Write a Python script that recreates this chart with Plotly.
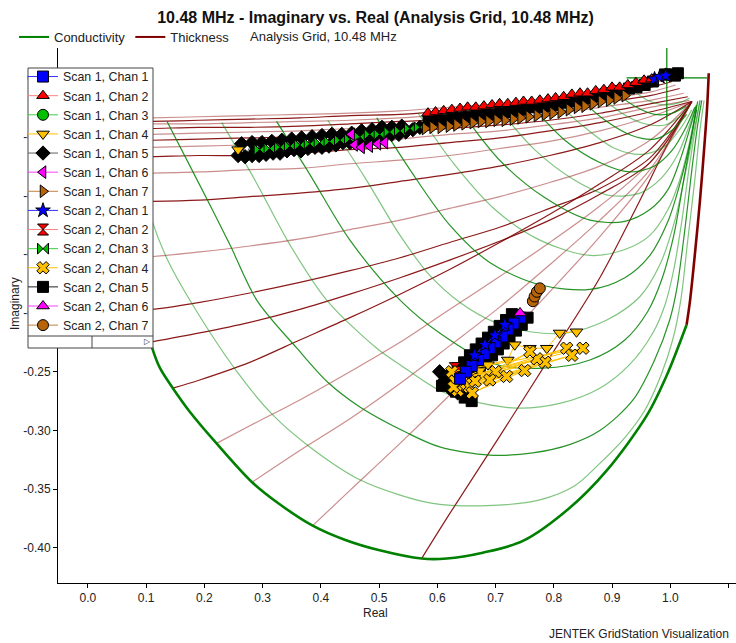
import plotly.graph_objects as go

FONT = "Liberation Sans, Arial, sans-serif"

# ---------------- analysis grid (data units) ----------------
cond_edge_x = [0.039, 0.043, 0.052, 0.064, 0.081, 0.098, 0.110, 0.124, 0.146, 0.175, 0.221, 0.282, 0.330, 0.386,
               0.441, 0.501, 0.573, 0.616, 0.678, 0.747, 0.827, 0.891, 0.960, 0.994, 1.028]
cond_edge_y = [-0.037, -0.053, -0.087, -0.129, -0.172, -0.206, -0.229, -0.247, -0.264, -0.284, -0.311, -0.344,
               -0.363, -0.381, -0.393, -0.402, -0.409, -0.409, -0.404, -0.394, -0.366, -0.334, -0.287, -0.253, -0.210]
thick_edge_x = [1.028, 1.034, 1.043, 1.051, 1.058, 1.063, 1.066]
thick_edge_y = [-0.210, -0.189, -0.146, -0.104, -0.061, -0.027, 0.004]

cond_lines_x = [
    [0.064, 0.089, 0.110, 0.137, 0.175, 0.256, 0.318, 0.381, 0.467, 0.536, 0.592, 0.685, 0.776, 0.836, 0.879, 0.922,
     0.956, 0.984, 1.004, 1.018, 1.030, 1.042, 1.051, 1.058],
    [0.136, 0.192, 0.244, 0.290, 0.359, 0.412, 0.467, 0.548, 0.604, 0.690, 0.764, 0.827, 0.879, 0.936, 0.973, 0.999,
     1.011, 1.025, 1.037, 1.047, 1.054],
    [0.230, 0.287, 0.347, 0.410, 0.496, 0.536, 0.604, 0.651, 0.736, 0.810, 0.879, 0.930, 0.970, 0.991, 1.006, 1.020,
     1.033, 1.044, 1.051],
    [0.324, 0.381, 0.450, 0.536, 0.604, 0.695, 0.781, 0.862, 0.922, 0.961, 0.985, 1.006, 1.023, 1.037, 1.047],
    [0.412, 0.476, 0.536, 0.587, 0.639, 0.699, 0.759, 0.822, 0.891, 0.948, 0.982, 1.008, 1.027, 1.041, 1.051],
    [0.496, 0.553, 0.621, 0.690, 0.776, 0.862, 0.922, 0.965, 0.996, 1.016, 1.033, 1.045],
    [0.567, 0.630, 0.699, 0.776, 0.862, 0.922, 0.965, 0.996, 1.016, 1.032, 1.044],
    [0.639, 0.707, 0.785, 0.862, 0.922, 0.965, 0.996, 1.016, 1.033, 1.045],
    [0.702, 0.767, 0.836, 0.896, 0.948, 0.985, 1.013, 1.033, 1.045],
    [0.755, 0.819, 0.879, 0.930, 0.973, 1.004, 1.027, 1.042],
    [0.798, 0.853, 0.905, 0.953, 0.991, 1.016, 1.037],
    [0.839, 0.888, 0.934, 0.973, 1.004, 1.028],
    [0.874, 0.917, 0.956, 0.991, 1.016, 1.033],
    [0.901, 0.939, 0.973, 1.003, 1.027],
    [0.930, 0.961, 0.991, 1.016, 1.033],
]
cond_lines_y = [
    [-0.039, -0.078, -0.121, -0.155, -0.189, -0.250, -0.287, -0.314, -0.342, -0.355, -0.362, -0.364, -0.359, -0.347,
     -0.328, -0.306, -0.283, -0.253, -0.223, -0.189, -0.138, -0.087, -0.044, -0.019],
    [-0.037, -0.091, -0.142, -0.189, -0.230, -0.259, -0.280, -0.302, -0.314, -0.321, -0.319, -0.312, -0.300, -0.274,
     -0.240, -0.206, -0.180, -0.129, -0.078, -0.040, -0.019],
    [-0.038, -0.087, -0.142, -0.189, -0.230, -0.244, -0.266, -0.274, -0.281, -0.277, -0.264, -0.244, -0.217, -0.193,
     -0.163, -0.121, -0.074, -0.040, -0.019],
    [-0.037, -0.082, -0.138, -0.189, -0.217, -0.243, -0.247, -0.240, -0.223, -0.199, -0.172, -0.134, -0.087, -0.048,
     -0.020],
    [-0.036, -0.085, -0.134, -0.168, -0.191, -0.208, -0.216, -0.217, -0.206, -0.186, -0.159, -0.121, -0.078, -0.044,
     -0.019],
    [-0.034, -0.078, -0.125, -0.157, -0.176, -0.180, -0.170, -0.151, -0.122, -0.091, -0.057, -0.027],
    [-0.030, -0.074, -0.112, -0.138, -0.151, -0.146, -0.134, -0.112, -0.087, -0.057, -0.027],
    [-0.027, -0.070, -0.102, -0.121, -0.122, -0.112, -0.095, -0.071, -0.044, -0.023],
    [-0.024, -0.061, -0.087, -0.100, -0.098, -0.085, -0.065, -0.040, -0.023],
    [-0.020, -0.053, -0.072, -0.080, -0.075, -0.061, -0.042, -0.025],
    [-0.018, -0.042, -0.060, -0.065, -0.058, -0.044, -0.027],
    [-0.015, -0.036, -0.049, -0.052, -0.044, -0.031],
    [-0.013, -0.030, -0.039, -0.040, -0.033, -0.024],
    [-0.011, -0.024, -0.031, -0.030, -0.024],
    [-0.008, -0.019, -0.023, -0.021, -0.017],
]

thick_lines_x = [
    [0.573, 0.621, 0.707, 0.793, 0.879, 0.948, 0.999, 1.037],
    [0.386, 0.450, 0.536, 0.621, 0.707, 0.793, 0.879, 0.965, 1.037],
    [0.282, 0.364, 0.450, 0.536, 0.621, 0.707, 0.793, 0.879, 0.965, 1.037],
    [0.221, 0.278, 0.364, 0.450, 0.536, 0.621, 0.707, 0.793, 0.879, 0.965, 1.037],
    [0.146, 0.192, 0.278, 0.364, 0.450, 0.536, 0.621, 0.707, 0.793, 0.879, 0.965, 1.037],
    [0.106, 0.192, 0.278, 0.364, 0.450, 0.536, 0.621, 0.707, 0.793, 0.879, 0.965, 1.037],
]
thick_lines_y = [
    [-0.409, -0.371, -0.305, -0.238, -0.170, -0.104, -0.053, -0.020],
    [-0.381, -0.351, -0.311, -0.270, -0.227, -0.182, -0.135, -0.082, -0.020],
    [-0.344, -0.317, -0.290, -0.260, -0.228, -0.195, -0.159, -0.121, -0.078, -0.020],
    [-0.311, -0.296, -0.274, -0.250, -0.225, -0.197, -0.169, -0.140, -0.109, -0.072, -0.020],
    [-0.264, -0.257, -0.242, -0.223, -0.204, -0.184, -0.163, -0.140, -0.116, -0.090, -0.061, -0.020],
    [-0.225, -0.217, -0.208, -0.197, -0.184, -0.170, -0.155, -0.139, -0.121, -0.099, -0.072, -0.020],
]
upper_thick_x = [0.090, 0.110, 0.192, 0.278, 0.364, 0.450, 0.536, 0.621, 0.707, 0.793, 0.879, 0.965]
upper_thick_y = [
    [-0.197, -0.197, -0.191, -0.183, -0.174, -0.164, -0.153, -0.140, -0.127, -0.111, -0.094, -0.068],
    [-0.152, -0.152, -0.148, -0.143, -0.137, -0.129, -0.121, -0.111, -0.101, -0.089, -0.075, -0.053],
    [-0.105, -0.105, -0.104, -0.101, -0.098, -0.094, -0.088, -0.082, -0.075, -0.066, -0.055, -0.040],
    [-0.081, -0.081, -0.080, -0.078, -0.077, -0.073, -0.070, -0.066, -0.060, -0.054, -0.045, -0.033],
    [-0.067, -0.067, -0.066, -0.066, -0.064, -0.061, -0.059, -0.055, -0.051, -0.045, -0.038, -0.029],
    [-0.059, -0.059, -0.058, -0.057, -0.056, -0.055, -0.052, -0.048, -0.045, -0.040, -0.034, -0.025],
    [-0.053, -0.053, -0.052, -0.051, -0.050, -0.048, -0.046, -0.043, -0.040, -0.036, -0.030, -0.022],
    [-0.048, -0.048, -0.047, -0.046, -0.045, -0.043, -0.042, -0.039, -0.036, -0.031, -0.025, -0.019],
    [-0.043, -0.043, -0.042, -0.042, -0.041, -0.039, -0.037, -0.035, -0.031, -0.027, -0.021, -0.015],
    [-0.039, -0.039, -0.039, -0.038, -0.037, -0.036, -0.034, -0.031, -0.028, -0.024, -0.018, -0.012],
    [-0.037, -0.037, -0.036, -0.035, -0.034, -0.032, -0.031, -0.028, -0.025, -0.020, -0.014, -0.008],
    [-0.034, -0.034, -0.033, -0.032, -0.031, -0.030, -0.028, -0.025, -0.022, -0.017, -0.011, -0.005],
]
upper_thick_end_x = [1.037, 1.037, 1.037, 1.037, 1.037, 1.033, 1.030, 1.023, 1.016, 1.009, 1.003, 0.996]
upper_thick_end_y = [-0.020, -0.020, -0.020, -0.020, -0.020, -0.019, -0.016, -0.013, -0.009, -0.006, -0.003, -0.001]

cross_h_x = [0.925, 1.063]
cross_h_y = [0.0, 0.0]
cross_v_x = [0.994, 0.994]
cross_v_y = [0.03, -0.036]

# ---------------- measurement series ----------------
series_names = ["Scan 1, Chan 1", "Scan 1, Chan 2", "Scan 1, Chan 3", "Scan 1, Chan 4", "Scan 1, Chan 5",
                "Scan 1, Chan 6", "Scan 1, Chan 7", "Scan 2, Chan 1", "Scan 2, Chan 2", "Scan 2, Chan 3",
                "Scan 2, Chan 4", "Scan 2, Chan 5", "Scan 2, Chan 6", "Scan 2, Chan 7"]
series_symbols = ["square", "triangle-up", "circle", "triangle-down", "diamond", "triangle-left", "triangle-right",
                  "star", "hourglass", "bowtie", "x", "square", "triangle-up", "circle"]
series_fill = ["#0000FF", "#FF0000", "#00C000", "#FFC000", "#000000", "#FF00FF", "#B8650A",
               "#0000FF", "#FF0000", "#00C000", "#FFC000", "#000000", "#FF00FF", "#B8650A"]
series_line = ["#3030FF", "#FF8080", "#40D040", "#FFC000", "#606060", "#FF40FF", "#C08040",
               "#3030FF", "#FF8080", "#40D040", "#FFC000", "#202020", "#FF40FF", "#C08040"]

s1c1_x = [0.742, 0.731, 0.721, 0.711, 0.700, 0.690, 0.680, 0.670, 0.659, 0.649, 0.639]
s1c1_y = [-0.204, -0.209, -0.214, -0.220, -0.225, -0.230, -0.235, -0.240, -0.245, -0.250, -0.256]
s1c2_x = [0.584, 0.597, 0.611, 0.625, 0.639, 0.652, 0.666, 0.680, 0.694, 0.707, 0.721, 0.735, 0.748, 0.762, 0.776,
          0.790, 0.803, 0.817, 0.831, 0.845, 0.858, 0.872, 0.886, 0.900, 0.913, 0.927, 0.941, 0.955, 0.968]
s1c2_y = [-0.030, -0.029, -0.028, -0.027, -0.026, -0.025, -0.025, -0.024, -0.023, -0.022, -0.022, -0.021, -0.020,
          -0.020, -0.019, -0.018, -0.017, -0.016, -0.014, -0.013, -0.013, -0.011, -0.010, -0.008, -0.008, -0.006,
          -0.004, -0.002, -0.001]
s1c3_x = [0.287, 0.321]
s1c3_y = [-0.063, -0.061]
s1c4_x = [0.258, None, 0.630, 0.647, 0.673, 0.687, 0.721, 0.733, 0.759, 0.788, 0.810, 0.839]
s1c4_y = [-0.061, None, -0.261, -0.255, -0.249, -0.244, -0.240, -0.227, -0.230, -0.230, -0.217, -0.216]
s1c5_x = [0.258, 0.264, 0.270, 0.282, 0.282, 0.294, 0.299, 0.306, 0.316, 0.318, 0.330, 0.333, 0.342, 0.350, 0.354,
          0.366, 0.367, 0.378, 0.385, 0.390, 0.402, 0.402, 0.414, 0.419, 0.426, 0.436, 0.438, 0.450, 0.453, 0.462,
          0.470, 0.474, 0.486, 0.488, 0.498, 0.505, 0.510, 0.522, 0.522, 0.534, 0.539, 0.546, 0.558, 0.570,
          None, 0.604, 0.613, 0.621, 0.635]
s1c5_y = [-0.066, -0.056, -0.067, -0.055, -0.066, -0.066, -0.055, -0.065, -0.054, -0.064, -0.064, -0.053, -0.062,
          -0.052, -0.061, -0.062, -0.051, -0.060, -0.050, -0.059, -0.059, -0.049, -0.058, -0.048, -0.057, -0.048,
          -0.055, -0.055, -0.047, -0.054, -0.045, -0.053, -0.052, -0.044, -0.050, -0.042, -0.049, -0.048, -0.042,
          -0.048, -0.041, -0.046, -0.044, -0.042, None, -0.250, -0.257, -0.264, -0.268]
s1c6_x = [0.453, 0.458, 0.470, 0.484, 0.498, 0.510]
s1c6_y = [-0.048, -0.057, -0.059, -0.058, -0.056, -0.055]
s1c7_x = [0.579, 0.592, 0.606, 0.620, 0.633, 0.647, 0.661, 0.675, 0.688, 0.702, 0.716, 0.730, 0.743, 0.757, 0.771,
          0.785, 0.798, 0.812, 0.826, 0.840, 0.853, 0.867, 0.881, 0.895, 0.908, 0.922]
s1c7_y = [-0.043, -0.042, -0.042, -0.041, -0.040, -0.039, -0.038, -0.037, -0.037, -0.036, -0.036, -0.035, -0.034,
          -0.033, -0.032, -0.031, -0.030, -0.029, -0.027, -0.025, -0.024, -0.022, -0.020, -0.019, -0.017, -0.015]
s2c1_x = [0.973, 0.982, 0.992, None, 0.716, 0.699, 0.682, 0.664]
s2c1_y = [-0.001, 0.001, 0.002, None, -0.210, -0.219, -0.227, -0.236]
s2c2_x = [0.630, 0.635]
s2c2_y = [-0.247, -0.250]
s2c3_x = [0.295, 0.312, 0.330, 0.347, 0.364, 0.381, 0.398, 0.415, 0.433, 0.450, 0.467, 0.484, 0.501, 0.518, 0.536,
          0.553, 0.570]
s2c3_y = [-0.061, -0.060, -0.059, -0.058, -0.057, -0.056, -0.055, -0.054, -0.053, -0.052, -0.050, -0.048, -0.048,
          -0.046, -0.045, -0.043, -0.042]
s2c4_x = [0.625, 0.850, 0.630, 0.822, 0.640, 0.831, 0.635, 0.785, 0.645, 0.771, 0.650, 0.759, 0.655, 0.750, 0.660,
          0.719, 0.665, 0.700, 0.628, 0.690]
s2c4_y = [-0.250, -0.230, -0.258, -0.230, -0.262, -0.236, -0.266, -0.242, -0.255, -0.239, -0.260, -0.233, -0.263,
          -0.249, -0.268, -0.254, -0.258, -0.250, -0.263, -0.257]
s2c5_x = [0.991, 0.999, 1.008, 1.013, None,
          0.585, 0.599, 0.613, 0.627, 0.640, 0.654, 0.668, 0.682, 0.695, 0.709, 0.723, 0.736, 0.750, 0.764, 0.778,
          0.791, 0.805, 0.819, 0.833, 0.846, 0.860, 0.874, 0.888, 0.901, 0.915, 0.929, 0.942, 0.956, 0.970, None,
          0.755, 0.745, 0.735, 0.724, 0.714, 0.704, 0.694, 0.683, 0.673, 0.663, 0.652, 0.642, 0.632, 0.647, 0.659,
          None,
          0.728, 0.718, 0.707, 0.697, 0.687, 0.676, 0.666, 0.656, 0.646, 0.635, 0.625, 0.615, 0.608]
s2c5_y = [0.003, 0.003, 0.002, 0.004, None,
          -0.037, -0.036, -0.036, -0.035, -0.034, -0.033, -0.032, -0.031, -0.031, -0.030, -0.029, -0.028, -0.027,
          -0.025, -0.025, -0.024, -0.023, -0.021, -0.020, -0.019, -0.017, -0.016, -0.014, -0.013, -0.011, -0.009,
          -0.008, -0.006, -0.003, None,
          -0.204, -0.210, -0.215, -0.220, -0.226, -0.231, -0.236, -0.241, -0.246, -0.251, -0.256, -0.261, -0.267,
          -0.272, -0.275, None,
          -0.201, -0.206, -0.211, -0.216, -0.221, -0.226, -0.231, -0.236, -0.242, -0.247, -0.252, -0.257, -0.262]
s2c6_x = [0.742]
s2c6_y = [-0.200]
s2c7_x = [0.764, 0.767, 0.771, 0.776]
s2c7_y = [-0.190, -0.186, -0.182, -0.179]

series_x = [s1c1_x, s1c2_x, s1c3_x, s1c4_x, s1c5_x, s1c6_x, s1c7_x, s2c1_x, s2c2_x, s2c3_x, s2c4_x, s2c5_x, s2c6_x, s2c7_x]
series_y = [s1c1_y, s1c2_y, s1c3_y, s1c4_y, s1c5_y, s1c6_y, s1c7_y, s2c1_y, s2c2_y, s2c3_y, s2c4_y, s2c5_y, s2c6_y, s2c7_y]
# stacking order of the series (legend keeps the list order above)
draw_order = [2, 11, 4, 9, 5, 6, 1, 8, 3, 10, 0, 7, 12, 13]

x_ticks = [0.0, 0.1, 0.2, 0.3, 0.4, 0.5, 0.6, 0.7, 0.8, 0.9, 1.0, 1.1]
x_tick_text = ["0.0", "0.1", "0.2", "0.3", "0.4", "0.5", "0.6", "0.7", "0.8", "0.9", "1.0", "1.1"]
y_ticks = [0.0, -0.05, -0.10, -0.15, -0.20, -0.25, -0.30, -0.35, -0.40]
y_tick_text = ["0.00", "-0.05", "-0.10", "-0.15", "-0.20", "-0.25", "-0.30", "-0.35", "-0.40"]

GREEN = "#008000"
RED = "#800000"
RED_DARK = "rgba(128,0,0,0.9)"
RED_LIGHT = "rgba(160,50,50,0.55)"
GREEN_DARK = "rgba(0,128,0,0.85)"
GREEN_LIGHT = "rgba(0,140,0,0.5)"

fig = go.Figure()


def grid_line(xs, ys, color, width):
    fig.add_trace(go.Scatter(x=xs, y=ys, mode="lines", showlegend=False, hoverinfo="skip",
                             line=dict(color=color, width=width, shape="spline", smoothing=0.9)))


for k, (xs, ys) in enumerate(zip(thick_lines_x, thick_lines_y)):
    grid_line(xs, ys, RED_DARK if k in (0, 4, 5) else RED_LIGHT, 1.2)
for k, ys in enumerate(upper_thick_y):
    xs = upper_thick_x + [upper_thick_end_x[k]]
    grid_line(xs, ys + [upper_thick_end_y[k]], RED_DARK if k % 2 == 0 else RED_LIGHT, 1.2)
for k, (xs, ys) in enumerate(zip(cond_lines_x, cond_lines_y)):
    grid_line(xs, ys, GREEN_LIGHT if k % 2 == 0 else GREEN_DARK, 1.2)
grid_line(cond_edge_x, cond_edge_y, GREEN, 2.6)
grid_line(thick_edge_x, thick_edge_y, RED, 2.6)
grid_line(cross_h_x, cross_h_y, GREEN, 1.2)
grid_line(cross_v_x, cross_v_y, GREEN, 1.2)

fig.add_trace(go.Scatter(x=[None], y=[None], mode="lines", name="Conductivity", legend="legend2",
                         line=dict(color=GREEN, width=2)))
fig.add_trace(go.Scatter(x=[None], y=[None], mode="lines", name="Thickness", legend="legend2",
                         line=dict(color=RED, width=2)))

for k in draw_order:
    fig.add_trace(go.Scatter(x=series_x[k], y=series_y[k], mode="lines+markers", name=series_names[k],
                             legendrank=1000 + k, connectgaps=False,
                             line=dict(color=series_line[k], width=1),
                             marker=dict(symbol=series_symbols[k], size=11, color=series_fill[k],
                                         line=dict(color="black", width=1))))

W, H = 736, 643
L, R, T, B = 58, 0, 48, 60
PW, PH = W - L - R, H - T - B


def px(x):
    return (x - L) / PW


def py(y):
    return (H - B - y) / PH


fig.update_layout(
    width=W, height=H,
    margin=dict(l=L, r=R, t=T, b=B, autoexpand=False),
    paper_bgcolor="white", plot_bgcolor="white",
    font=dict(family=FONT, size=12, color="#222222"),
    title=dict(text="<b>10.48 MHz - Imaginary vs. Real (Analysis Grid, 10.48 MHz)</b>",
               x=375.5 / W, xanchor="center", xref="container", y=1 - 17 / H, yanchor="middle", yref="container",
               font=dict(size=16, color="#111111", family=FONT)),
    xaxis=dict(range=[-0.0512, 1.1128], tickvals=x_ticks, ticktext=x_tick_text, showgrid=False, zeroline=False,
               showline=True, linecolor="black", linewidth=1, ticks="outside", ticklen=4, tickcolor="black",
               tickfont=dict(size=12, color="#222222")),
    yaxis=dict(range=[-0.4298, 0.0255], tickvals=y_ticks, ticktext=y_tick_text, showgrid=False, zeroline=False,
               showline=True, linecolor="black", linewidth=1, ticks="outside", ticklen=4, tickcolor="black",
               tickfont=dict(size=12, color="#222222")),
    legend=dict(x=px(23), y=py(62), xanchor="left", yanchor="top", bgcolor="rgba(0,0,0,0)",
                borderwidth=0, font=dict(size=12.4, color="#222222", family=FONT), tracegroupgap=0),
    legend2=dict(orientation="h", x=px(14), y=py(22), xanchor="left", yanchor="top", bgcolor="rgba(0,0,0,0)",
                 font=dict(size=13, color="#222222", family=FONT)),
    showlegend=True,
)

fig.add_shape(type="rect", xref="paper", yref="paper", x0=px(28), x1=px(153), y0=py(348), y1=py(68),
              line=dict(color="#444444", width=1), fillcolor="white", layer="above")
fig.add_shape(type="line", xref="paper", yref="paper", x0=px(28), x1=px(153), y0=py(336), y1=py(336),
              line=dict(color="#444444", width=1), layer="above")
fig.add_shape(type="line", xref="paper", yref="paper", x0=px(92), x1=px(92), y0=py(348), y1=py(336),
              line=dict(color="#444444", width=1), layer="above")

fig.add_annotation(text="▷", x=px(147), y=py(342), xref="paper", yref="paper", showarrow=False,
                   xanchor="center", yanchor="middle", font=dict(size=8, color="#333333"))
fig.add_annotation(text="Analysis Grid, 10.48 MHz", x=px(248), y=py(37), xref="paper", yref="paper",
                   xanchor="left", yanchor="middle", showarrow=False, font=dict(size=13, color="#222222"))
fig.add_annotation(text="JENTEK GridStation Visualization", x=px(547), y=py(634), xref="paper", yref="paper",
                   xanchor="left", yanchor="middle", showarrow=False, font=dict(size=12, color="#222222"))
fig.add_annotation(text="Real", x=px(375), y=py(613), xref="paper", yref="paper",
                   xanchor="center", yanchor="middle", showarrow=False, font=dict(size=12, color="#222222"))
fig.add_annotation(text="Imaginary", x=px(15), y=py(303), xref="paper", yref="paper", textangle=-90,
                   xanchor="center", yanchor="middle", showarrow=False, font=dict(size=12, color="#222222"))

fig.write_html("out.html")
